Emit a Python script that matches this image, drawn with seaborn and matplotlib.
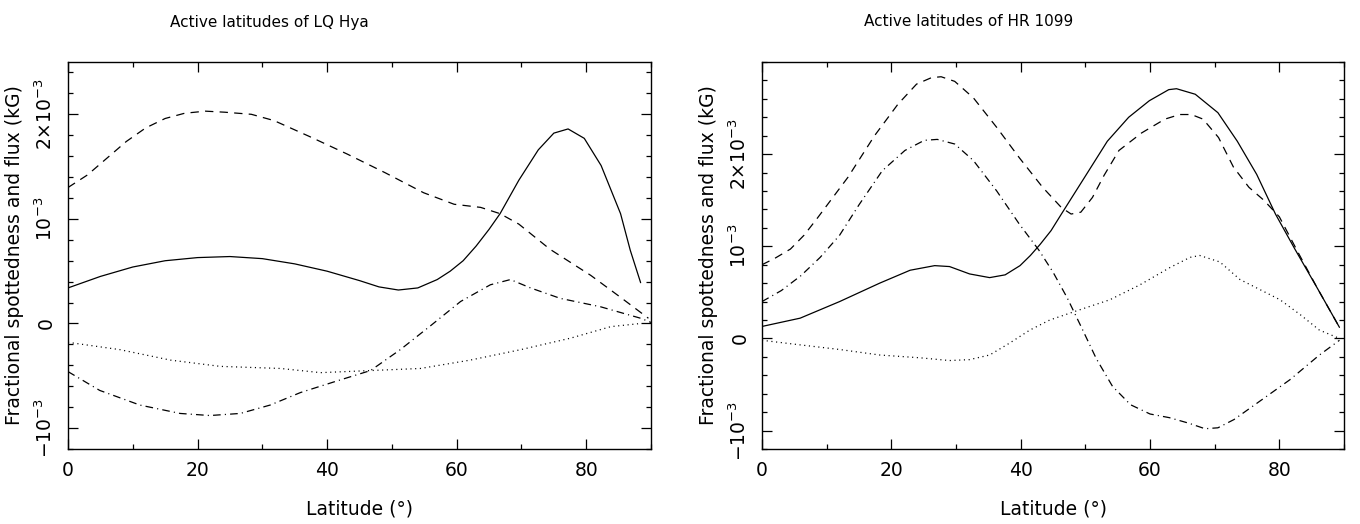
import numpy as np
import pandas as pd
import matplotlib
matplotlib.use("Agg")
import matplotlib.pyplot as plt
from matplotlib.ticker import MultipleLocator, FixedLocator
import seaborn as sns

# ---------------- data (y in units of 1e-3) ----------------
titles = ["Active latitudes of LQ Hya", "Active latitudes of HR 1099"]
xlabel = "Latitude (°)"
ylabel = "Fractional spottedness and flux (kG)"
ytick_vals = [-1, 0, 1, 2]
ytick_labels = [r"$-10^{-3}$", "0", r"$10^{-3}$", r"$2{\times}10^{-3}$"]
xtick_vals = [0, 20, 40, 60, 80]

# LQ Hya
lq_solid_x = [0, 5, 10, 15, 20, 25, 30, 35, 40, 45, 48, 51, 54, 57, 59, 61, 63, 65, 66.7,
              69.6, 72.6, 75, 77.2, 79.7, 82.3, 85.3, 86.8, 88.4]
lq_solid_y = [0.34, 0.45, 0.54, 0.60, 0.63, 0.64, 0.62, 0.57, 0.50, 0.41, 0.35, 0.32, 0.34, 0.42,
              0.50, 0.60, 0.74, 0.90, 1.05, 1.37, 1.66, 1.82, 1.86, 1.77, 1.51, 1.05, 0.70, 0.39]
lq_dash_x = [0, 3, 6, 9, 12, 15, 18, 21.2, 24.2, 28.3, 31.8, 37.2, 43.1, 49, 54.9, 59.6, 63.7,
             66.7, 69.6, 74.4, 80.7, 85.3, 89.6]
lq_dash_y = [1.30, 1.42, 1.58, 1.74, 1.87, 1.96, 2.01, 2.03, 2.02, 2.00, 1.94, 1.79, 1.62, 1.44,
             1.25, 1.14, 1.11, 1.05, 0.95, 0.71, 0.46, 0.25, 0.05]
lq_dd_x = [0, 4.9, 11.1, 17.3, 21.9, 26.6, 31.2, 35.9, 42, 46.7, 51.3, 56, 60.6, 65.2, 68.3,
           71.4, 76, 82.2, 88.4, 90]
lq_dd_y = [-0.46, -0.64, -0.78, -0.86, -0.88, -0.86, -0.78, -0.66, -0.54, -0.45, -0.25, -0.02,
           0.21, 0.37, 0.42, 0.34, 0.24, 0.16, 0.05, 0.01]
lq_dot_x = [0, 8, 15.8, 23.5, 32.8, 39, 46.7, 54.4, 62.1, 69.9, 77.6, 83.8, 88.4]
lq_dot_y = [-0.18, -0.25, -0.35, -0.41, -0.43, -0.47, -0.45, -0.43, -0.35, -0.25, -0.14, -0.03, 0.0]

# HR 1099
hr_solid_x = [0, 5.9, 12, 18.2, 22.9, 26.7, 29, 32.1, 35.2, 37.6, 39.9, 41.5, 43, 44.7, 46.3,
              49.9, 53.4, 56.7, 59.9, 62.9, 64.1, 67, 70.5, 73.5, 76.5, 79.4, 82.4, 86, 89.3]
hr_solid_y = [0.13, 0.22, 0.40, 0.60, 0.74, 0.79, 0.78, 0.70, 0.66, 0.69, 0.79, 0.90, 1.02,
              1.17, 1.35, 1.75, 2.14, 2.40, 2.58, 2.70, 2.71, 2.65, 2.45, 2.14, 1.78, 1.35, 0.97,
              0.53, 0.12]
hr_dash_x = [0, 2, 4.4, 6.5, 8.5, 13.3, 17.4, 21, 23.9, 26.2, 27.7, 29.8, 32.7, 36.3, 39.8,
             43.4, 46.3, 47.8, 49.3, 51.1, 52.9, 55.2, 58.7, 62.3, 64.6, 66.4, 68.2, 70.6, 72.9,
             75.3, 77.6, 80, 83, 86, 89.3]
hr_dash_y = [0.80, 0.87, 0.97, 1.12, 1.30, 1.75, 2.20, 2.54, 2.76, 2.83, 2.84, 2.79, 2.61, 2.29,
             1.96, 1.64, 1.42, 1.35, 1.37, 1.53, 1.77, 2.04, 2.23, 2.38, 2.43, 2.43, 2.38, 2.18,
             1.86, 1.64, 1.50, 1.32, 0.92, 0.53, 0.12]
hr_dd_x = [0, 3, 6, 9, 12, 15, 18.6, 22.1, 25.1, 27.1, 29.8, 32.7, 36.3, 39.8, 42.8, 45,
           47.2, 49.4, 51.7, 54.2, 57, 60, 63, 66, 68.5, 70.5, 73, 77, 81.6, 86.2, 89.3]
hr_dd_y = [0.40, 0.52, 0.68, 0.88, 1.12, 1.45, 1.82, 2.04, 2.15, 2.16, 2.11, 1.93, 1.60, 1.24,
           0.96, 0.72, 0.44, 0.12, -0.22, -0.52, -0.72, -0.82, -0.86, -0.92, -0.98, -0.97,
           -0.88, -0.68, -0.45, -0.18, -0.02]
hr_dot_x = [0, 5.9, 12, 18.2, 24.4, 29, 32.1, 35.2, 38.3, 41.4, 44.5, 49.1, 53.8, 58.4, 63.1,
            66.2, 67.7, 70.8, 73.9, 77, 80.1, 83.2, 86.2, 89.3]
hr_dot_y = [-0.02, -0.07, -0.12, -0.18, -0.21, -0.24, -0.23, -0.18, -0.05, 0.09, 0.20, 0.31,
            0.42, 0.58, 0.77, 0.88, 0.90, 0.83, 0.64, 0.53, 0.42, 0.26, 0.09, 0.0]

ylims = [(-1.2, 2.5), (-1.2, 3.0)]

panels = [
    [(lq_solid_x, lq_solid_y, "solid"), (lq_dash_x, lq_dash_y, "dashed"),
     (lq_dd_x, lq_dd_y, "dashdot"), (lq_dot_x, lq_dot_y, "dotted")],
    [(hr_solid_x, hr_solid_y, "solid"), (hr_dash_x, hr_dash_y, "dashed"),
     (hr_dd_x, hr_dd_y, "dashdot"), (hr_dot_x, hr_dot_y, "dotted")],
]

# ---------------- style ----------------
sns.set_theme(style="ticks")
plt.rcParams["font.family"] = ["DejaVu Sans"]
plt.rcParams["lines.scale_dashes"] = False
plt.rcParams["axes.linewidth"] = 1.0
for key in ["text.color", "axes.labelcolor", "xtick.color", "ytick.color",
            "axes.edgecolor"]:
    plt.rcParams[key] = "black"

styles = {
    "solid": "-",
    "dashed": (0, (6.0, 4.5)),
    "dashdot": (0, (5.5, 3.0, 0.8, 3.0)),
    "dotted": (0, (0.8, 2.6)),
}

fig = plt.figure(figsize=(13.6, 5.24), dpi=100)
axes_rects = [[68 / 1360, 75 / 524, 583 / 1360, 387 / 524],
              [762 / 1360, 75 / 524, 582 / 1360, 387 / 524]]
title_x = [269 / 1360, 969 / 1360]

for i, rect in enumerate(axes_rects):
    ax = fig.add_axes(rect)
    for xs, ys, name in panels[i]:
        df = pd.DataFrame({"lat": xs, "val": ys})
        sns.lineplot(data=df, x="lat", y="val", ax=ax, color="black",
                     linestyle=styles[name], linewidth=0.9, sort=False,
                     estimator=None)
    ax.set_xlim(0, 90)
    ax.set_ylim(*ylims[i])
    ax.xaxis.set_major_locator(FixedLocator(xtick_vals))
    ax.xaxis.set_minor_locator(MultipleLocator(10))
    ax.yaxis.set_major_locator(FixedLocator(ytick_vals))
    ax.yaxis.set_minor_locator(MultipleLocator(0.2))
    ax.set_yticklabels(ytick_labels, rotation=90, va="center")
    ax.tick_params(which="both", direction="in", top=True, right=True,
                   color="black", width=0.9)
    ax.tick_params(which="major", length=7.5)
    ax.tick_params(which="minor", length=3.8)
    ax.tick_params(axis="x", which="major", labelsize=13.5, pad=9)
    ax.tick_params(axis="y", which="major", labelsize=13.5, pad=9)
    ax.set_xlabel(xlabel, fontsize=13.5, labelpad=14)
    ax.set_ylabel(ylabel, fontsize=13.5, labelpad=7)
    for sp in ax.spines.values():
        sp.set_color("black")
    fig.text(title_x[i], 1 - 22 / 524, titles[i], ha="center", va="center",
             fontsize=11)

fig.savefig("out.png", dpi=100)
